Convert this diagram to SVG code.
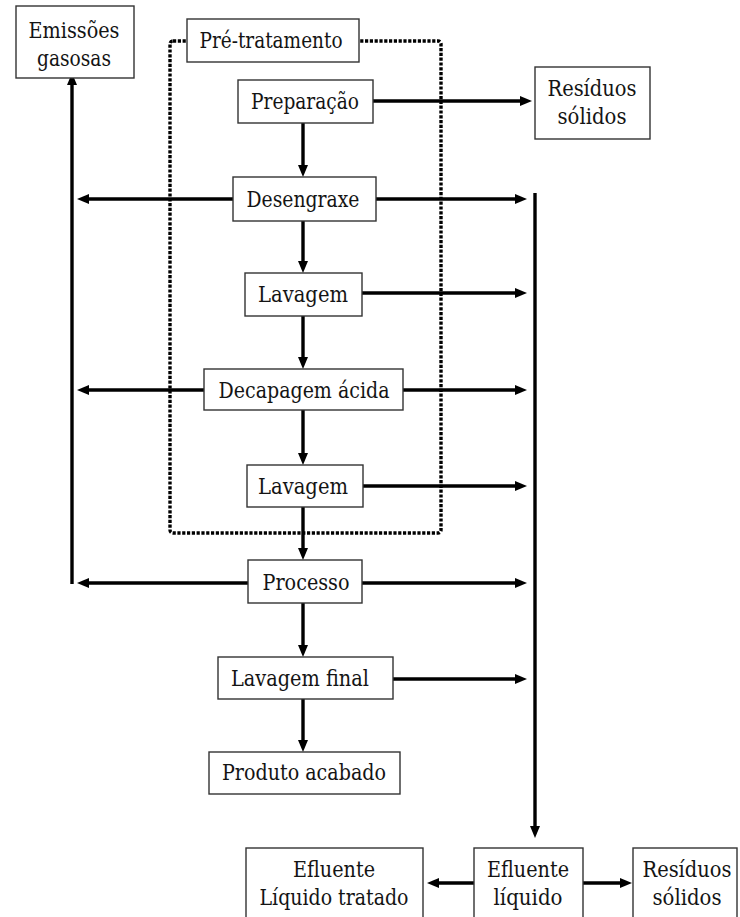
<svg xmlns="http://www.w3.org/2000/svg" width="740" height="917" viewBox="0 0 740 917">
  <style>
    .box { fill: #ffffff; stroke: #333333; stroke-width: 1.4; }
    .lbl { font-family: "DejaVu Serif", "Liberation Serif", serif; font-size: 21.5px; fill: #141414; text-anchor: middle; }
    .flow { stroke: #000000; stroke-width: 3.4; fill: none; }
    .arr { marker-end: url(#head); }
    .group { fill: none; stroke: #000000; stroke-width: 3.4; stroke-dasharray: 3.2 1.6; }
  </style>
  <defs>
    <marker id="head" markerUnits="userSpaceOnUse" markerWidth="13" markerHeight="12" refX="4" refY="5.5" orient="auto">
      <path d="M0,0.5 L12,5.5 L0,10.5 Z" fill="#000000"/>
    </marker>
  </defs>
  <rect width="740" height="917" fill="#ffffff"/>

  <!-- pre-treatment stage boundary -->
  <rect class="group" x="170" y="41" width="271" height="492" rx="3"/>

  <!-- connectors -->
  <g id="connectors">
    <!-- main vertical flow -->
    <line class="flow arr" x1="303" y1="123" x2="303" y2="169"/>
    <line class="flow arr" x1="303" y1="221" x2="303" y2="265"/>
    <line class="flow arr" x1="303" y1="316" x2="303" y2="361"/>
    <line class="flow arr" x1="303" y1="410" x2="303" y2="457"/>
    <line class="flow arr" x1="303" y1="507" x2="303" y2="552"/>
    <line class="flow arr" x1="303" y1="603" x2="303" y2="649"/>
    <line class="flow arr" x1="303" y1="699" x2="303" y2="744"/>

    <!-- solid residues from preparation -->
    <line class="flow arr" x1="373" y1="101" x2="524" y2="101"/>

    <!-- gaseous emissions collector -->
    <line class="flow arr" x1="72" y1="584" x2="72" y2="81"/>
    <line class="flow arr" x1="233" y1="199" x2="85" y2="199"/>
    <line class="flow arr" x1="204" y1="390" x2="85" y2="390"/>
    <line class="flow arr" x1="248" y1="583" x2="85" y2="583"/>

    <!-- liquid effluent outputs -->
    <line class="flow arr" x1="376" y1="199" x2="519" y2="199"/>
    <line class="flow arr" x1="362" y1="293" x2="519" y2="293"/>
    <line class="flow arr" x1="403" y1="390" x2="519" y2="390"/>
    <line class="flow arr" x1="363" y1="486" x2="519" y2="486"/>
    <line class="flow arr" x1="362" y1="583" x2="519" y2="583"/>
    <line class="flow arr" x1="393" y1="679" x2="519" y2="679"/>

    <!-- liquid effluent collector -->
    <line class="flow arr" x1="535" y1="193" x2="535" y2="830"/>

    <!-- effluent treatment split -->
    <line class="flow arr" x1="474" y1="883" x2="435" y2="883"/>
    <line class="flow arr" x1="583" y1="883" x2="624" y2="883"/>
  </g>

  <g id="emissoes-gasosas">
    <rect class="box" x="16" y="6" width="118" height="72"/>
    <text class="lbl" x="74" y="38" textLength="91" lengthAdjust="spacingAndGlyphs">Emissões</text>
    <text class="lbl" x="74" y="66" textLength="74" lengthAdjust="spacingAndGlyphs">gasosas</text>
  </g>

  <g id="pre-tratamento">
    <rect class="box" x="187" y="19" width="172" height="43"/>
    <text class="lbl" x="271" y="48" textLength="143" lengthAdjust="spacingAndGlyphs">Pré-tratamento</text>
  </g>

  <g id="preparacao">
    <rect class="box" x="238" y="80" width="135" height="43"/>
    <text class="lbl" x="305" y="109" textLength="108" lengthAdjust="spacingAndGlyphs">Preparação</text>
  </g>

  <g id="residuos-solidos-1">
    <rect class="box" x="535" y="67" width="115" height="72"/>
    <text class="lbl" x="592" y="96" textLength="89" lengthAdjust="spacingAndGlyphs">Resíduos</text>
    <text class="lbl" x="592" y="124" textLength="69" lengthAdjust="spacingAndGlyphs">sólidos</text>
  </g>

  <g id="desengraxe">
    <rect class="box" x="233" y="177" width="143" height="44"/>
    <text class="lbl" x="303" y="207" textLength="113" lengthAdjust="spacingAndGlyphs">Desengraxe</text>
  </g>

  <g id="lavagem-1">
    <rect class="box" x="245" y="273" width="117" height="43"/>
    <text class="lbl" x="303" y="302" textLength="90" lengthAdjust="spacingAndGlyphs">Lavagem</text>
  </g>

  <g id="decapagem-acida">
    <rect class="box" x="204" y="369" width="199" height="41"/>
    <text class="lbl" x="304" y="398" textLength="171" lengthAdjust="spacingAndGlyphs">Decapagem ácida</text>
  </g>

  <g id="lavagem-2">
    <rect class="box" x="247" y="465" width="116" height="42"/>
    <text class="lbl" x="303" y="494" textLength="90" lengthAdjust="spacingAndGlyphs">Lavagem</text>
  </g>

  <g id="processo">
    <rect class="box" x="248" y="560" width="114" height="43"/>
    <text class="lbl" x="306" y="590" textLength="87" lengthAdjust="spacingAndGlyphs">Processo</text>
  </g>

  <g id="lavagem-final">
    <rect class="box" x="218" y="657" width="175" height="42"/>
    <text class="lbl" x="300" y="686" textLength="138" lengthAdjust="spacingAndGlyphs">Lavagem final</text>
  </g>

  <g id="produto-acabado">
    <rect class="box" x="209" y="752" width="191" height="42"/>
    <text class="lbl" x="304" y="780" textLength="164" lengthAdjust="spacingAndGlyphs">Produto acabado</text>
  </g>

  <g id="efluente-tratado">
    <rect class="box" x="246" y="848" width="177" height="82"/>
    <text class="lbl" x="334" y="877" textLength="82" lengthAdjust="spacingAndGlyphs">Efluente</text>
    <text class="lbl" x="334" y="905" textLength="149" lengthAdjust="spacingAndGlyphs">Líquido tratado</text>
  </g>

  <g id="efluente-liquido">
    <rect class="box" x="474" y="848" width="109" height="82"/>
    <text class="lbl" x="528" y="877" textLength="82" lengthAdjust="spacingAndGlyphs">Efluente</text>
    <text class="lbl" x="528" y="905" textLength="69" lengthAdjust="spacingAndGlyphs">líquido</text>
  </g>

  <g id="residuos-solidos-2">
    <rect class="box" x="633" y="848" width="104" height="82"/>
    <text class="lbl" x="687" y="877" textLength="89" lengthAdjust="spacingAndGlyphs">Resíduos</text>
    <text class="lbl" x="687" y="905" textLength="69" lengthAdjust="spacingAndGlyphs">sólidos</text>
  </g>
</svg>
